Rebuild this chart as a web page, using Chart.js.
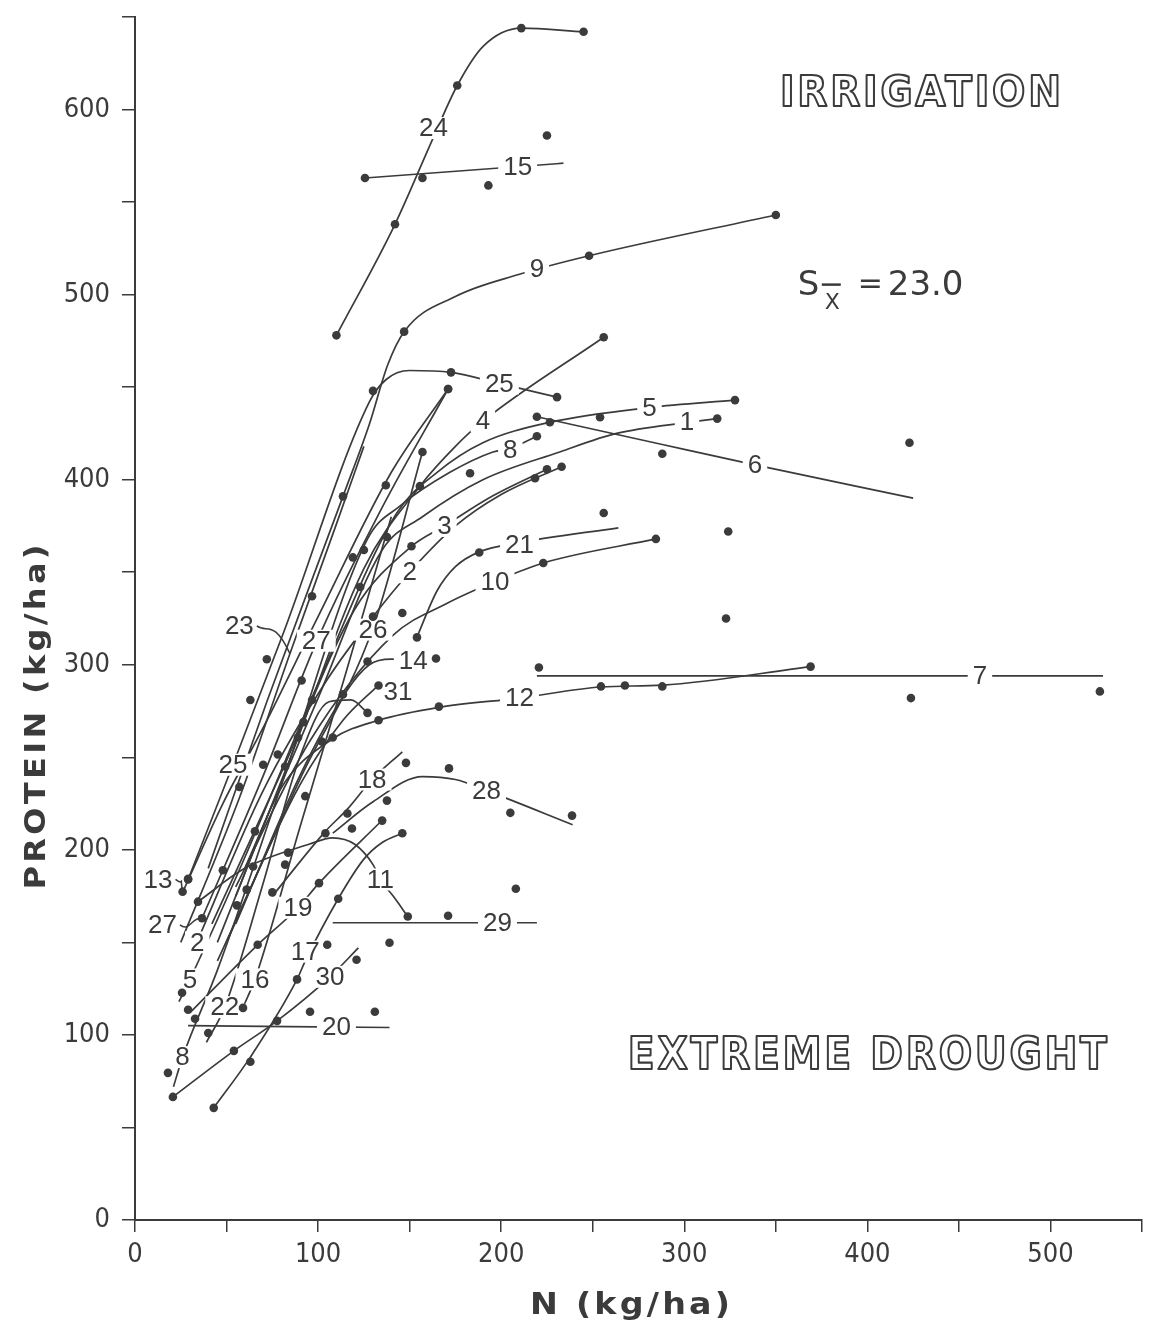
<!DOCTYPE html>
<html>
<head>
<meta charset="utf-8">
<script src="https://cdn.jsdelivr.net/npm/chart.js@4.4.1/dist/chart.umd.min.js"></script>
<style>
  html, body { margin: 0; padding: 0; background: #fff; }
  canvas { display: block; }
</style>
</head>
<body>
<canvas id="chart" width="1155" height="1334"></canvas>
<script>
/* Protein yield vs N uptake, one fitted curve + observed points per site-year */

// fitted curves  [N kg/ha, protein kg/ha]
const c1  = [[60,190],[100,282],[135,362],[157,380],[190,400],[232,415],[263,425],[302,431],[318,433]];
const c2  = [[32,146],[70,232],[105,292],[130,326],[150,350],[175,375],[200,392],[233,407]];
const c3  = [[42,160],[80,242],[120,330],[151,364],[169,375],[195,391],[225,405.6]];
const c4  = [[45,150],[85,250],[125,352],[155.6,396.5],[175,418],[190,431.6],[256,477]];
const c5  = [[24,118],[30,130],[60,196],[100,290],[143,382],[165,404],[190,420],[226.6,431],[281,439],[327.7,443]];
const c6  = [[219.5,434],[288,419],[338.6,408],[425,390]];
const c7  = [[219.5,294],[528.7,294]];
const c8  = [[21,72],[26,88],[45,135],[80,235],[127,368],[145,386],[172,404],[195.5,415],[205,417],[219.5,423.5]];
const c9  = [[40,190],[72,280],[113.6,391],[128,430],[138,462],[147,480],[175,499],[210,511],[248,521],[350,543]];
const c10 = [[55,180],[95,258],[141,316],[170,333],[196.6,345],[223,355],[284.5,368]];
const c11 = [[34.4,172],[60,190],[95,203],[108,206.5],[120,203],[130,192],[134,184],[141,175],[149,164]];
const c12 = [[55,175],[79,232],[108,260],[133,270],[166,277],[210,282],[254.5,288],[288,289],[369,299]];
const c13 = [[26,177],[48,225],[70,266],[100,326],[140,404],[171,449]];
const c14 = [[55,160],[90,240],[115,285],[128,300],[140,303],[152,303],[164.4,303.4]];
const c15 = [[125.6,563],[234,571]];
const c16 = [[59,115],[65.5,130],[90,212],[115,295],[140,380]];
const c17 = [[43,60.6],[63,88],[88.5,130],[93,140],[111,173.6],[125,195],[135,204],[146,209]];
const c18 = [[75,175],[104,210],[116,222],[129.5,238],[146,253]];
const c19 = [[30,112],[67,148.7],[89,168.7],[100.5,182],[135,216]];
const c20 = [[29,105],[139,104]];
const c21 = [[154,315],[165,340],[175,353],[188,361],[210,366],[264,374]];
const c22 = [[39,96],[49,115],[70,182],[90,250],[106,280],[118,281],[127,274]];
const c23 = [[25,150],[57,228],[84.6,306],[110,376],[125,418]];
const c24 = [[110,478],[142,538],[163,585],[176,613],[190,634],[211,644],[245,642]];
const c25 = [[29,184],[53.5,246],[81,317],[128,442],[137,454],[150,459],[172.6,458],[199,452],[230.5,444.6]];
const c26 = [[50,150],[90,238],[130,320],[157,415]];
const c27 = [[36.6,163],[70,240],[99,312],[135,385],[171,449]];
const c28 = [[108,209],[130,226],[157,239.6],[175,238],[192,232],[239,213.6]];
const c29 = [[108,160.6],[219.5,160.6]];
const c30 = [[20.7,66.5],[54,91.4],[77.6,107.6],[106.5,131.4],[122,147]];
const c31 = [[45,140],[90,235],[113.6,270],[133,289]];

// observed points
const p1  = [[64.5,191],[82,245],[123,342],[318,433]];
const p2  = [[55.7,170],[92,269],[130,326],[218.5,400.8],[233,407]];
const p3  = [[48,189],[151,364],[225,405.6]];
const p4  = [[65.5,210],[155.6,396.5],[256,477]];
const p5  = [[25.7,122.8],[226.6,431],[254,433.7],[327.7,443]];
const p6  = [[219.5,434],[288,414],[423,420]];
const p7  = [[220.6,298.5],[322.8,325],[324,372],[423.8,282],[527,285.6]];
const p8  = [[18,79.5],[96.7,281],[137.6,369],[183,403.5],[219.5,423.5]];
const p9  = [[113.6,391],[147,480],[248,521],[350,543]];
const p10 = [[89,260.7],[146,328],[223,355],[284.5,368]];
const p11 = [[34.4,172],[83.6,198.5],[149,164]];
const p12 = [[108,260.7],[133,270],[166,277.4],[254.5,288.3],[267.6,288.8],[288,288.3],[369,299]];
const p13 = [[26,177.4],[29,184.4],[70,246],[119,358],[137,397],[171,449]];
const p14 = [[61,178.5],[93,229],[127,301.8],[164.4,303.4]];
const p15 = [[125.6,563],[157,563],[193,559],[225,586]];
const p16 = [[59,114.6],[82,192],[102,258.5]];
const p17 = [[43,60.6],[63,85.5],[88.5,130],[111,173.6],[146,209]];
const p18 = [[104,209],[116,219.6],[118.5,211.5],[137.6,226.6],[148,247]];
const p19 = [[67,148.7],[100.5,182],[135,215.8]];
const p20 = [[29,113.6],[32.8,108.7],[95.6,112.5],[131,112.5]];
const p21 = [[154,314.8],[188,360.7],[256,382]];
const p22 = [[40,101],[127,274]];
const p23 = [[57,234],[96.7,337]];
const p24 = [[110,478],[142,538],[176,613],[211,644],[245,642]];
const p25 = [[29,184],[63,281],[72,303],[130,448],[172.6,458],[230.5,444.6]];
const p26 = [[75,177],[157,415]];
const p27 = [[36.6,163],[78,251.5],[91,291.5],[125,362],[171,449]];
const p28 = [[171.5,244],[205,220],[238.7,218.5]];
const p29 = [[105,148.7],[139,149.8],[171,164.4],[208,179]];
const p30 = [[20.7,66.5],[54,91.4],[77.6,107.6],[121,140.6]];
const p31 = [[113.6,284],[133,288.8]];

// curve labels [text, N, protein, leader-to N, leader-to protein]
const seriesLabels = [
  ["24",163,590],["15",209,569],["9",219.5,514],["25",199,452],["4",190,431.6],
  ["5",281,439],["1",301.5,431],["8",205,416],["6",338.6,408],["3",169,375],
  ["21",210,365],["2",150,350],["10",196.6,345],["27",99,313],["26",130,319],
  ["14",152,302],["31",143.6,285.6],["12",210,282],["7",461.5,294],["25",53.5,246],
  ["18",129.5,238],["28",192,232],["11",134,184],["19",89,168.7],["29",198,160.6],
  ["17",93,145],["5",30,130],["16",65.5,130],["30",106.5,131.4],["22",49,115],
  ["20",110,104.4],["8",26,88],["2",34,150],
  ["23",57,321,84.6,306],["13",12.6,184,26,177.4],["27",15,159.5,36.6,163]
];

const xTicksShown = [0,100,200,300,400,500];
const yTicksShown = [0,100,200,300,400,500,600];

const curves = [c1,c2,c3,c4,c5,c6,c7,c8,c9,c10,c11,c12,c13,c14,c15,c16,c17,c18,c19,c20,c21,c22,c23,c24,c25,c26,c27,c28,c29,c30,c31];
const points = [p1,p2,p3,p4,p5,p6,p7,p8,p9,p10,p11,p12,p13,p14,p15,p16,p17,p18,p19,p20,p21,p22,p23,p24,p25,p26,p27,p28,p29,p30,p31];

const INK = "#3b3b3b";
const TICK_FONT = '"Liberation Sans Narrow", "DejaVu Sans Condensed", "Liberation Sans", sans-serif';
const LABEL_FONT = '"Liberation Sans", "DejaVu Sans", sans-serif';

const toXY = arr => arr.map(([x, y]) => ({ x, y }));

const datasets = [];
curves.forEach((c, i) => {
  datasets.push({
    kind: "curve", label: "curve " + (i + 1), data: toXY(c),
    showLine: true, pointRadius: 0, borderColor: INK, borderWidth: 1.7,
    cubicInterpolationMode: "monotone", fill: false, order: 2
  });
});
points.forEach((p, i) => {
  datasets.push({
    kind: "dots", label: "obs " + (i + 1), data: toXY(p),
    showLine: false, pointRadius: 4.3, pointBackgroundColor: INK,
    pointBorderWidth: 0, order: 1
  });
});

function drawLabels(chart) {
  const { ctx, scales: { x, y } } = chart;
  ctx.save();
  ctx.font = "26px " + LABEL_FONT;
  ctx.textAlign = "center";
  ctx.textBaseline = "middle";
  seriesLabels.forEach(([t, lx, ly, tx, ty]) => {
    const px = x.getPixelForValue(lx);
    const py = y.getPixelForValue(ly);
    const w = ctx.measureText(t).width;
    if (tx === undefined) {
      ctx.fillStyle = "#fff";
      ctx.fillRect(px - w / 2 - 5, py - 11, w + 10, 22);
    } else {
      // little wavy leader to the curve
      const sx = px + w / 2 + 3;
      const ex = x.getPixelForValue(tx), ey = y.getPixelForValue(ty);
      ctx.strokeStyle = INK;
      ctx.lineWidth = 1.5;
      ctx.beginPath();
      ctx.moveTo(sx, py);
      ctx.bezierCurveTo(sx + 10, py + 8, (sx + ex) / 2, py - 8, ex, ey);
      ctx.stroke();
    }
    ctx.fillStyle = INK;
    ctx.fillText(t, px, py + 1);
  });
  ctx.restore();
}

const labelPlugin = {
  id: "seriesLabels",
  beforeDraw(chart) { chart.$labelsDone = false; },
  beforeDatasetDraw(chart, args) {
    if (chart.$labelsDone || chart.data.datasets[args.index].kind !== "dots") return;
    chart.$labelsDone = true;
    drawLabels(chart);
  }
};

function outlined(ctx, text, cx, cy, size, width, spacing) {
  ctx.save();
  ctx.font = "bold " + size + 'px "DejaVu Sans", sans-serif';
  ctx.letterSpacing = spacing + "px";
  const m = ctx.measureText(text).width - spacing;
  ctx.translate(cx, cy);
  ctx.scale(width / m, 1);
  ctx.textAlign = "left";
  ctx.textBaseline = "middle";
  ctx.lineJoin = "round";
  ctx.lineWidth = 2.2;
  ctx.strokeStyle = INK;
  ctx.strokeText(text, -m / 2, 0);
  ctx.restore();
}

function stretched(ctx, text, cx, cy, font, width, rot) {
  ctx.save();
  ctx.font = font;
  ctx.letterSpacing = "3px";
  const m = ctx.measureText(text).width - 3;
  ctx.translate(cx, cy);
  if (rot) ctx.rotate(rot);
  ctx.scale(width / m, 1);
  ctx.textAlign = "left";
  ctx.textBaseline = "middle";
  ctx.fillStyle = INK;
  ctx.fillText(text, -m / 2, 0);
  ctx.restore();
}

const textPlugin = {
  id: "annotations",
  afterDraw(chart) {
    const { ctx, scales: { x, y } } = chart;
    // axis titles
    stretched(ctx, "PROTEIN (kg/ha)", 37, 717, 'bold 29px "DejaVu Sans", sans-serif', 345, -Math.PI / 2);
    stretched(ctx, "N (kg/ha)", 630, 1306, 'bold 31px "DejaVu Sans", sans-serif', 200, 0);

    outlined(ctx, "IRRIGATION", x.getPixelForValue(429), y.getPixelForValue(608), 43, 281, 3);
    outlined(ctx, "EXTREME DROUGHT", x.getPixelForValue(400), y.getPixelForValue(88), 44, 479, 3);

    // S with x-bar subscript
    const sx = x.getPixelForValue(362), sy = y.getPixelForValue(500);
    ctx.save();
    ctx.fillStyle = INK;
    ctx.strokeStyle = INK;
    ctx.textBaseline = "alphabetic";
    ctx.textAlign = "left";
    ctx.font = '34px "DejaVu Sans", sans-serif';
    ctx.fillText("S", sx, sy);
    ctx.font = '22px "DejaVu Sans", sans-serif';
    ctx.fillText("X", sx + 27, sy + 14);
    ctx.lineWidth = 2.5;
    ctx.beginPath();
    ctx.moveTo(sx + 24, sy - 10);
    ctx.lineTo(sx + 43, sy - 10);
    ctx.stroke();
    ctx.font = '30px "DejaVu Sans", sans-serif';
    ctx.fillText("=", sx + 60, sy - 2);
    ctx.font = '34px "DejaVu Sans", sans-serif';
    ctx.fillText("23.0", sx + 90, sy);
    ctx.restore();
  }
};

new Chart(document.getElementById("chart"), {
  type: "line",
  data: { datasets },
  options: {
    responsive: false,
    animation: false,
    devicePixelRatio: 1,
    events: [],
    layout: { padding: { top: 17, right: 13, left: 0, bottom: 0 } },
    plugins: { legend: { display: false }, tooltip: { enabled: false } },
    scales: {
      x: {
        type: "linear", min: 0, max: 550,
        border: { display: true, color: INK, width: 2 },
        grid: { drawOnChartArea: false, drawTicks: true, tickLength: 12, color: INK, lineWidth: 1.5 },
        ticks: {
          stepSize: 50, autoSkip: false, maxRotation: 0, padding: 7, color: INK,
          font: { family: TICK_FONT, size: 27 },
          callback: v => (xTicksShown.includes(v) ? String(v) : "")
        },
        afterFit: s => { s.height = 114; s.paddingLeft = 0; s.paddingRight = 0; }
      },
      y: {
        type: "linear", min: 0, max: 650,
        border: { display: true, color: INK, width: 2 },
        grid: { drawOnChartArea: false, drawTicks: true, tickLength: 13, color: INK, lineWidth: 1.5 },
        ticks: {
          stepSize: 50, autoSkip: false, padding: 12, color: INK,
          font: { family: TICK_FONT, size: 27 },
          callback: v => (yTicksShown.includes(v) ? String(v) : "")
        },
        afterFit: s => { s.width = 135; s.paddingTop = 0; s.paddingBottom = 0; }
      }
    }
  },
  plugins: [labelPlugin, textPlugin]
});
</script>
</body>
</html>
